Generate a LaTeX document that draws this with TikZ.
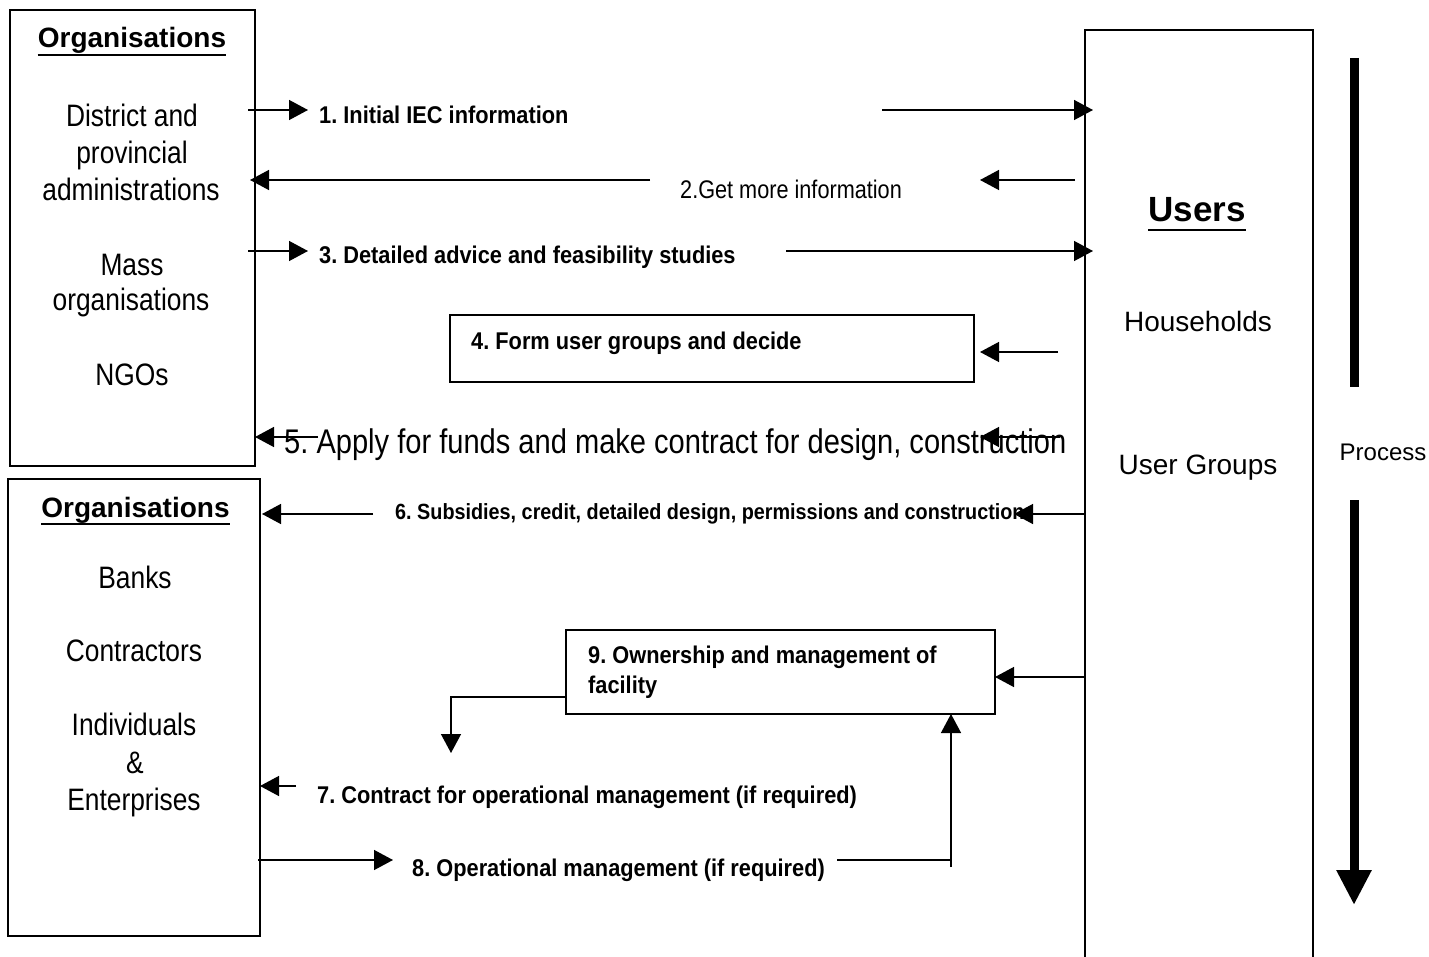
\documentclass[tikz,border=0pt]{standalone}
\usepackage{fontspec}
\setmainfont{Liberation Sans}
\newfontfamily\nrw[FakeStretch=0.85]{Liberation Sans}
\newfontfamily\nrb[FakeStretch=0.9]{Liberation Sans}
\usetikzlibrary{arrows.meta}
\frenchspacing
\begin{document}
\begin{tikzpicture}[x=1pt,y=-1pt,
  box/.style={draw, line width=1.4pt, inner sep=0pt},
  tip/.style={-{Triangle[length=19pt,width=20pt]}},
  ln/.style={line width=1.4pt},
  txt/.style={anchor=base, inner sep=0pt},
  txtl/.style={anchor=base west, inner sep=0pt},
  big/.style={font=\nrw\fontsize{31}{37}\selectfont},
  hdr/.style={font=\bfseries\fontsize{28}{33}\selectfont},
  usr/.style={font=\bfseries\fontsize{35}{40}\selectfont},
  ug/.style={font=\fontsize{28}{33}\selectfont},
  proc/.style={font=\fontsize{24}{28}\selectfont},
  lb/.style={font=\nrb\bfseries\fontsize{24.2}{29}\selectfont},
  ltwo/.style={font=\nrw\fontsize{25.5}{30}\selectfont},
  lfive/.style={font=\nrw\fontsize{34.2}{38}\selectfont},
  lsix/.style={font=\nrb\bfseries\fontsize{22}{26}\selectfont},
  ul/.style={line width=2.6pt}
]
\useasboundingbox (0,0) rectangle (1429,957);

% boxes
\node[box, minimum width=245pt, minimum height=456pt] (org1) at (132.5,238) {};
\node[box, minimum width=252pt, minimum height=457pt] (org2) at (134,707.5) {};
\node[box, minimum width=228pt, minimum height=960pt] (users) at (1199,510) {};
\node[box, minimum width=524pt, minimum height=67pt] (b4) at (712,348.5) {};
\node[box, minimum width=429pt, minimum height=84pt] (b9) at (780.5,672) {};

% left box 1 texts
\node[txt, hdr] (o1h) at (132,48) {Organisations};
\draw[ul] ([yshift=-7pt]o1h.base west) -- ([yshift=-7pt]o1h.base east);
\node[txt, big] (t11) at (132,127) {District and};
\node[txt, big] (t12) at (132,164) {provincial};
\node[txt, big] (t13) at (131,201) {administrations};
\node[txt, big] (t14) at (132,276) {Mass};
\node[txt, big] (t15) at (131,311) {organisations};
\node[txt, big] (t16) at (132,385) {NGOs};

% left box 2 texts
\node[txt, hdr] (o2h) at (135.5,517) {Organisations};
\draw[ul] ([yshift=-7pt]o2h.base west) -- ([yshift=-7pt]o2h.base east);
\node[txt, big] (t21) at (135,588) {Banks};
\node[txt, big] (t22) at (134,661) {Contractors};
\node[txt, big] (t23) at (134,735) {Individuals};
\node[txt, big] (t24) at (135,773) {\&};
\node[txt, big] (t25) at (134,810) {Enterprises};

% users texts
\node[txt, usr] (uh) at (1197,222) {Users};
\draw[ul] ([yshift=-8pt]uh.base west) -- ([yshift=-8pt]uh.base east);
\node[txt, ug] (u1) at (1198,332) {Households};
\node[txt, ug] (u2) at (1198,474) {User Groups};

% process
\node[txt, proc] (pr) at (1383,460) {Process};
\coordinate (p1) at (1354,58);
\coordinate (p2) at (1354,387);
\coordinate (p3) at (1354,500);
\coordinate (p4) at (1354,905);
\draw[line width=9pt] (p1) -- (p2);
\draw[line width=9pt, -{Triangle[length=35pt,width=33pt]}] (p3) -- (p4);

% labels
\node[txtl, lb] (l1) at (319,124) {1. Initial IEC information};
\node[txtl, ltwo] (l2) at (680,199) {2.Get more information};
\node[txtl, lb] (l3) at (319,264) {3. Detailed advice and feasibility studies};
\node[txtl, lb] (l4) at (471,349) {4. Form user groups and decide};
\node[txtl, lfive] (l5) at (284,453) {5. Apply for funds and make contract for design, construction};
\node[txtl, lsix] (l6) at (395,519) {6. Subsidies, credit, detailed design, permissions and construction};
\node[txtl, lb] (l9a) at (588,663) {9. Ownership and management of};
\node[txtl, lb] (l9b) at (588,693) {facility};
\node[txtl, lb] (l7) at (317,803) {7. Contract for operational management (if required)};
\node[txtl, lb] (l8) at (412,876) {8. Operational management (if required)};

% connector coordinates
\coordinate (a1s) at (248,110); \coordinate (a1e) at (308,110);
\coordinate (a1f) at (882,110); \coordinate (a1g) at (1093,110);
\coordinate (a2s) at (1075,180); \coordinate (a2e) at (980,180);
\coordinate (a2f) at (650,180); \coordinate (a2g) at (250,180);
\coordinate (a3s) at (248,251); \coordinate (a3e) at (308,251);
\coordinate (a3f) at (786,251); \coordinate (a3g) at (1093,251);
\coordinate (a4s) at (1058,352); \coordinate (a4e) at (980,352);
\coordinate (a5s) at (318,437); \coordinate (a5e) at (255,437);
\coordinate (a5f) at (1060,437); \coordinate (a5g) at (980,437);
\coordinate (a6s) at (373,514); \coordinate (a6e) at (262,514);
\coordinate (a6f) at (1085,514); \coordinate (a6g) at (1014,514);
\coordinate (a9s) at (1085,677); \coordinate (a9e) at (995,677);
\coordinate (c9a) at (566,697); \coordinate (c9b) at (451,697); \coordinate (c9c) at (451,753);
\coordinate (a7s) at (296,786); \coordinate (a7e) at (260,786);
\coordinate (a8s) at (258,860); \coordinate (a8e) at (393,860);
\coordinate (a8f) at (837,860); \coordinate (a8g) at (951,860);
\coordinate (a8h) at (951,867); \coordinate (a8i) at (951,714);

% connectors
\draw[ln, tip] (a1s) -- (a1e);
\draw[ln, tip] (a1f) -- (a1g);
\draw[ln, tip] (a2s) -- (a2e);
\draw[ln, tip] (a2f) -- (a2g);
\draw[ln, tip] (a3s) -- (a3e);
\draw[ln, tip] (a3f) -- (a3g);
\draw[ln, tip] (a4s) -- (a4e);
\draw[ln, tip] (a5s) -- (a5e);
\draw[ln, tip] (a5f) -- (a5g);
\draw[ln, tip] (a6s) -- (a6e);
\draw[ln, tip] (a6f) -- (a6g);
\draw[ln, tip] (a9s) -- (a9e);
\draw[ln, tip] (c9a) -- (c9b) -- (c9c);
\draw[ln, tip] (a7s) -- (a7e);
\draw[ln, tip] (a8s) -- (a8e);
\draw[ln] (a8f) -- (a8g);
\draw[ln, tip] (a8h) -- (a8i);
\end{tikzpicture}
\end{document}
